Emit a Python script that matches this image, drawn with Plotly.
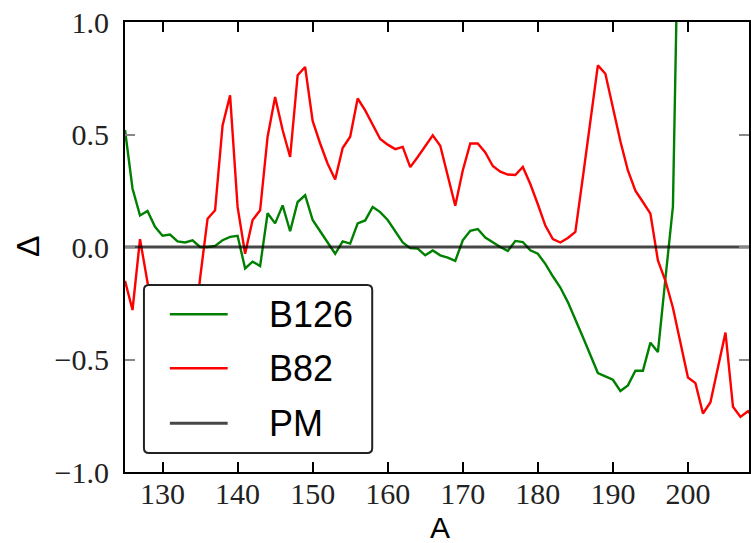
import plotly.graph_objects as go

# Mass number grid
a_b126 = list(range(125, 200))
a_b82 = list(range(125, 210))

b126 = [
    0.52, 0.26, 0.14, 0.16, 0.09, 0.05, 0.055, 0.025, 0.02, 0.03,      # 125-134
    0.0, 0.0, 0.005, 0.03, 0.045, 0.05, -0.095, -0.065, -0.085, 0.15,  # 135-144
    0.105, 0.185, 0.07, 0.20, 0.23, 0.12, 0.07, 0.02, -0.03, 0.025,    # 145-154
    0.015, 0.105, 0.118, 0.178, 0.155, 0.12, 0.07, 0.02, -0.005, -0.007,  # 155-164
    -0.037, -0.015, -0.037, -0.047, -0.062, 0.03, 0.072, 0.08, 0.042, 0.02,  # 165-174
    0.0, -0.018, 0.027, 0.022, -0.015, -0.03, -0.075, -0.13, -0.18, -0.245,  # 175-184
    -0.32, -0.40, -0.48, -0.56, -0.575, -0.59, -0.64, -0.615, -0.55, -0.55,  # 185-194
    -0.425, -0.467, -0.14, 0.18, 2.0,                                  # 195-199
]

b82 = [
    -0.15, -0.28, 0.035, -0.16, -0.35, -0.5, -0.45, -0.55, -0.5, -0.45,  # 125-134
    -0.14, 0.126, 0.163, 0.54, 0.674, 0.178, -0.03, 0.12, 0.163, 0.49,   # 135-144
    0.667, 0.52, 0.40, 0.763, 0.80, 0.56, 0.46, 0.37, 0.30, 0.44,        # 145-154
    0.49, 0.66, 0.607, 0.54, 0.48, 0.455, 0.435, 0.445, 0.355, 0.40,     # 155-164
    0.45, 0.496, 0.45, 0.32, 0.183, 0.34, 0.46, 0.46, 0.42, 0.36,        # 165-174
    0.335, 0.322, 0.32, 0.356, 0.28, 0.19, 0.095, 0.035, 0.02, 0.04,     # 175-184
    0.067, 0.31, 0.56, 0.807, 0.77, 0.62, 0.47, 0.34, 0.25, 0.20,        # 185-194
    0.148, -0.06, -0.15, -0.27, -0.43, -0.58, -0.605, -0.74, -0.69, -0.53,  # 195-204
    -0.38, -0.71, -0.755, -0.73, -0.77,                                  # 205-209
]

pm = [0.0] * len(a_b82)

x_ticks = [130, 140, 150, 160, 170, 180, 190, 200]
y_ticks = [-1.0, -0.5, 0.0, 0.5, 1.0]
y_tick_text = ["\u22121.0", "\u22120.5", "0.0", "0.5", "1.0"]

GREEN = "#008000"
RED = "#ff0000"
PM_COLOR = "rgba(0,0,0,0.72)"

W, H = 751, 543
ML, MR, MT, MB = 125, 0, 22, 71
PW = W - ML - MR
PH = H - MT - MB

def px_x(px):
    return (px - ML) / PW

def px_y(py):
    return (H - MB - py) / PH

fig = go.Figure()
fig.add_trace(go.Scatter(x=a_b126, y=b126, mode="lines", name="B126",
                         line=dict(color=GREEN, width=2.4)))
fig.add_trace(go.Scatter(x=a_b82, y=b82, mode="lines", name="B82",
                         line=dict(color=RED, width=2.4)))
fig.add_trace(go.Scatter(x=a_b82, y=pm, mode="lines", name="PM",
                         line=dict(color=PM_COLOR, width=3)))

serif = dict(family="Liberation Serif, DejaVu Serif, serif", size=30, color="#222")
sans = "Liberation Sans, Arial, sans-serif"

fig.update_xaxes(range=[125, 125 + PW / 7.53], tickvals=x_ticks,
                 ticks="inside", ticklen=10, tickwidth=2, tickcolor="black",
                 showline=True, linecolor="black", linewidth=2, mirror="ticks",
                 showgrid=False, zeroline=False, tickfont=serif,
                 ticklabelstandoff=-6)
fig.update_yaxes(range=[-1, 1], tickvals=y_ticks, ticktext=y_tick_text,
                 ticks="inside", ticklen=10, tickwidth=1.5, tickcolor="#888",
                 showline=True, linecolor="black", linewidth=2, mirror="ticks",
                 showgrid=False, zeroline=False, tickfont=serif,
                 ticklabelstandoff=8)

# legend box with slightly rounded corners
x0, x1 = px_x(144), px_x(373)
y0, y1 = px_y(453), px_y(285)
r = 5
rx, ry = r / PW, r / PH
path = (f"M {x0+rx},{y0} L {x1-rx},{y0} Q {x1},{y0} {x1},{y0+ry} "
        f"L {x1},{y1-ry} Q {x1},{y1} {x1-rx},{y1} L {x0+rx},{y1} "
        f"Q {x0},{y1} {x0},{y1-ry} L {x0},{y0+ry} Q {x0},{y0} {x0+rx},{y0} Z")
shapes = [dict(type="path", path=path, xref="paper", yref="paper",
               fillcolor="white", line=dict(color="#222", width=2), layer="above")]
annotations = []
entries = [("B126", GREEN, 2.4, 314.3), ("B82", RED, 2.4, 368.3), ("PM", PM_COLOR, 3, 423.3)]
for label, color, lw, py in entries:
    shapes.append(dict(type="line", xref="paper", yref="paper",
                       x0=px_x(170), x1=px_x(228), y0=px_y(py), y1=px_y(py),
                       line=dict(color=color, width=lw), layer="above"))
    annotations.append(dict(text=label, xref="paper", yref="paper",
                            x=px_x(267), y=px_y(py), xanchor="left", yanchor="middle",
                            showarrow=False, font=dict(family=sans, size=36, color="black")))

annotations.append(dict(text="A", xref="paper", yref="paper", x=px_x(441), y=px_y(527),
                        xanchor="center", yanchor="middle", showarrow=False,
                        font=dict(family=sans, size=30, color="black")))
annotations.append(dict(text="\u0394", xref="paper", yref="paper", x=px_x(27), y=px_y(246.7),
                        xanchor="center", yanchor="middle", showarrow=False, textangle=-90,
                        font=dict(family=sans, size=32, color="black")))

fig.update_layout(width=W, height=H, margin=dict(l=ML, r=MR, t=MT, b=MB),
                  paper_bgcolor="white", plot_bgcolor="white", showlegend=False,
                  shapes=shapes, annotations=annotations)

fig.write_html("out.html")
